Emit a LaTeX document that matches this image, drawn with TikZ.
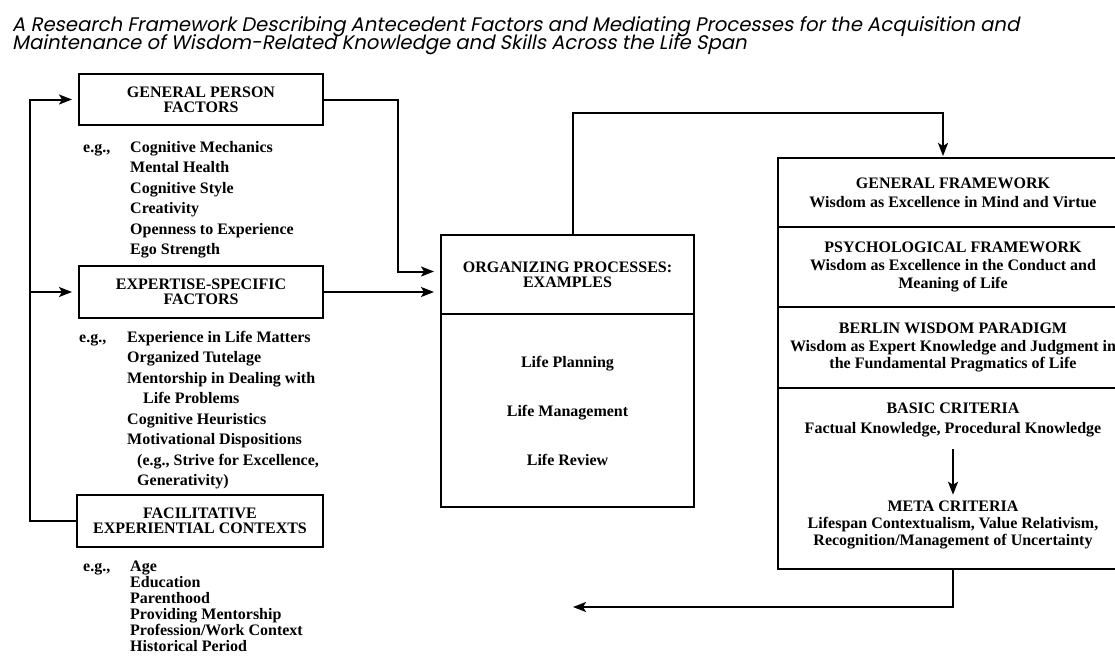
\documentclass[tikz,border=0pt]{standalone}
\usepackage{fontspec}
\setmainfont{Liberation Serif}
\newfontfamily\titlefont[FakeSlant=0.2]{Poppins}
\usepackage{tikz}
\usetikzlibrary{arrows.meta,positioning,calc}

\begin{document}
\begin{tikzpicture}[x=1pt,y=-1pt,
  box/.style={draw,line width=2.2pt,inner sep=0pt,outer sep=0pt,align=center,font=\fontsize{16}{15}\selectfont\bfseries},
  rbox/.style={box,minimum width=350pt,font=\fontsize{16}{18}\selectfont\bfseries},
  item/.style={anchor=base west,inner sep=0pt,font=\fontsize{16}{18}\selectfont\bfseries},
  txt/.style={inner sep=2pt,align=center,font=\fontsize{16}{18}\selectfont\bfseries},
  arr/.style={line width=2pt,shorten >=7pt,-{Stealth[length=13pt,width=10pt,inset=3pt]}}]
\useasboundingbox (0,0) rectangle (1115,656);
\clip (0,0) rectangle (1115,656);
% title
\node[anchor=base west,inner sep=0pt,font=\titlefont\fontsize{19.6}{15}\selectfont] (title1) at (12,31) {A Research Framework Describing Antecedent Factors and Mediating Processes for the Acquisition and};
\node[anchor=base west,inner sep=0pt,font=\titlefont\fontsize{19.6}{15}\selectfont] (title2) at (12,49) {Maintenance of Wisdom-Related Knowledge and Skills Across the Life Span};
% left column
\node[box,minimum width=244pt,minimum height=51pt] (gpf) at (201,99.5) {GENERAL PERSON\\FACTORS};
\node[box,minimum width=244pt,minimum height=52pt] (esf) at (201,292) {EXPERTISE-SPECIFIC\\FACTORS};
\node[box,minimum width=246pt,minimum height=52pt] (fec) at (200,521) {FACILITATIVE\\EXPERIENTIAL CONTEXTS};
\node[item] (gpeg) at (83,152) {e.g.,};
\foreach \t [count=\i] in {Cognitive Mechanics,Mental Health,Cognitive Style,Creativity,Openness to Experience,Ego Strength}
  \node[item] (gp\i) at (130,{152+20.5*(\i-1)}) {\t};
\node[item] (exeg) at (79,342) {e.g.,};
\foreach \dx/\t [count=\i] in {0/Experience in Life Matters,0/Organized Tutelage,0/Mentorship in Dealing with,16/Life Problems,0/Cognitive Heuristics,0/Motivational Dispositions,10/{(e.g., Strive for Excellence,},10/Generativity)}
  \node[item] (ex\i) at ({127+\dx},{342+20.5*(\i-1)}) {\t};
\node[item] (fceg) at (83,571) {e.g.,};
\foreach \t [count=\i] in {Age,Education,Parenthood,Providing Mentorship,Profession/Work Context,Historical Period}
  \node[item] (fc\i) at (130,{571+16*(\i-1)}) {\t};
% middle
\node[box,minimum width=253pt,minimum height=79pt] (orgtop) at (567.5,274.5) {ORGANIZING PROCESSES:\\EXAMPLES};
\node[box,minimum width=253pt,minimum height=193pt,below=0pt of orgtop,font=\fontsize{16}{49}\selectfont\bfseries] (orgbot) {Life Planning\\Life Management\\Life Review};
% right stack
\node[rbox,minimum height=69pt,font=\fontsize{16}{19}\selectfont\bfseries] (gfw) at (953,192.5) {GENERAL FRAMEWORK\\Wisdom as Excellence in Mind and Virtue};
\node[rbox,minimum height=80pt,below=0pt of gfw] (pfw) {PSYCHOLOGICAL FRAMEWORK\\Wisdom as Excellence in the Conduct and\\Meaning of Life};
\node[rbox,minimum height=81pt,below=0pt of pfw,font=\fontsize{16}{17.5}\selectfont\bfseries] (bwp) {BERLIN WISDOM PARADIGM\\Wisdom as Expert Knowledge and Judgment in\\the Fundamental Pragmatics of Life};
\node[rbox,minimum height=181pt,below=0pt of bwp] (crit) {};
\node[txt,font=\fontsize{16}{20}\selectfont\bfseries] (basic) at (953,420) {BASIC CRITERIA\\Factual Knowledge, Procedural Knowledge};
\node[txt,font=\fontsize{16}{17}\selectfont\bfseries] (meta) at (953,525) {META CRITERIA\\Lifespan Contextualism, Value Relativism,\\Recognition/Management of Uncertainty};
% connectors
\coordinate (spine) at (30,0);
\coordinate (turn) at (943,113);
\coordinate (back) at (573,607);
\draw[arr] (fec.west) -| (spine |- gpf.west) -- (gpf.west);
\draw[arr] (spine |- esf.west) -- (esf.west);
\draw[arr] (gpf.east) -- ++(75,0) |- ([yshift=3pt]orgtop.west);
\draw[arr] (esf.east) -- (esf.east -| orgtop.west);
\draw[arr,shorten >=2pt] ([xshift=5pt]orgtop.north) |- (turn) -- (turn |- gfw.north);
\draw[arr,shorten >=0pt] (crit.south) |- (back);
\draw[arr,shorten <=10pt,shorten >=4pt] (basic) -- (meta);
\end{tikzpicture}
\end{document}
